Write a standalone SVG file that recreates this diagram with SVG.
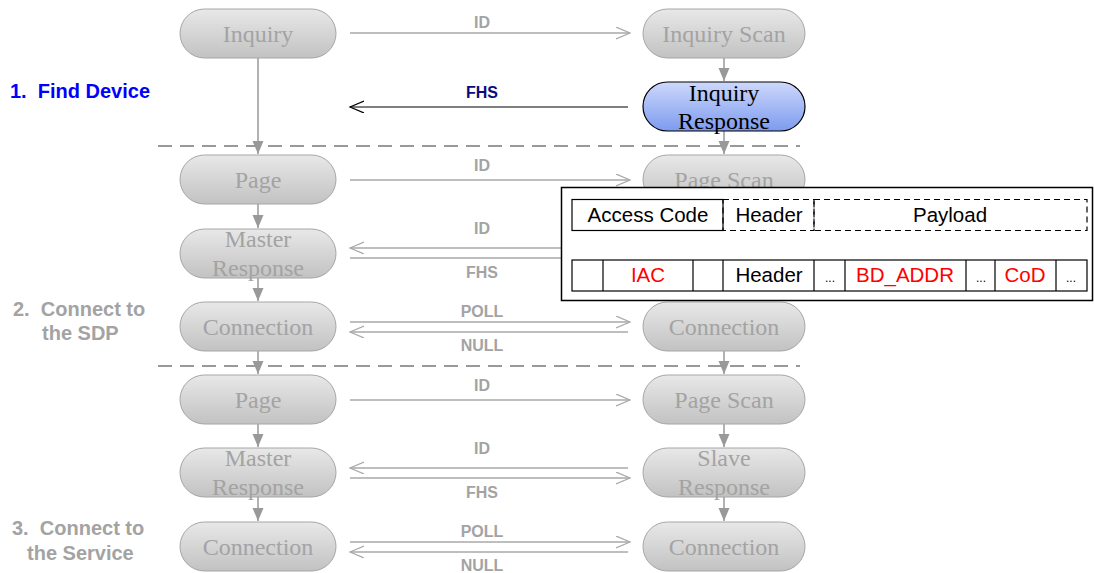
<svg xmlns="http://www.w3.org/2000/svg" width="1094" height="573" viewBox="0 0 1094 573">
  <defs>
    <linearGradient id="gGrey" x1="0" y1="0" x2="0" y2="1">
      <stop offset="0" stop-color="#e8e8e8"/>
      <stop offset="1" stop-color="#c2c2c2"/>
    </linearGradient>
    <linearGradient id="gBlue" x1="0" y1="0" x2="0" y2="1">
      <stop offset="0" stop-color="#cdd8fb"/>
      <stop offset="1" stop-color="#7d9bef"/>
    </linearGradient>
    <marker id="open" markerUnits="userSpaceOnUse" markerWidth="16" markerHeight="14" refX="14" refY="6" orient="auto">
      <path d="M0,0 L14,6 L0,12" fill="none" stroke="#a8a8a8" stroke-width="1.2"/>
    </marker>
    <marker id="openDark" markerUnits="userSpaceOnUse" markerWidth="16" markerHeight="14" refX="14" refY="6" orient="auto">
      <path d="M0,0 L14,6 L0,12" fill="none" stroke="#000" stroke-width="1.2"/>
    </marker>
    <marker id="solid" markerUnits="userSpaceOnUse" markerWidth="14" markerHeight="12" refX="13" refY="5.5" orient="auto">
      <path d="M0,0 L13,5.5 L0,11 Z" fill="#999"/>
    </marker>
  </defs>
  <style>
    .node rect { fill: url(#gGrey); stroke: #a6a6a6; stroke-width: 1; }
    .node text { font-family: "Liberation Serif", "Times New Roman", serif; font-size: 24px; fill: #a3a3a3; text-anchor: middle; }
    .hl rect { fill: url(#gBlue); stroke: #000; stroke-width: 1.2; }
    .hl text { fill: #000; }
    .msg { stroke: #a8a8a8; stroke-width: 1.3; fill: none; }
    .msg.fwd { marker-end: url(#open); }
    .msg.dark { stroke: #555; marker-end: url(#openDark); }
    .flow { stroke: #999; stroke-width: 1.5; fill: none; marker-end: url(#solid); }
    .sep { stroke: #999; stroke-width: 2; stroke-dasharray: 14 8; fill: none; }
    .lbl { font-family: "Liberation Sans", Arial, sans-serif; font-weight: bold; font-size: 16px; fill: #a3a3a3; text-anchor: middle; }
    .lbl.dark { fill: #0a0a80; }
    .phase { font-family: "Liberation Sans", Arial, sans-serif; font-weight: bold; font-size: 20px; fill: #a3a3a3; white-space: pre; }
    .phase.on { fill: #0000ff; }
    .cell { fill: none; stroke: #000; stroke-width: 1.2; }
    .cell.dash { stroke-dasharray: 6 4; }
    .ct { font-family: "Liberation Sans", Arial, sans-serif; font-size: 20.5px; fill: #000; text-anchor: middle; }
    .ct.red { fill: #ff0000; }
    .ct.small { font-size: 12px; }
  </style>

  <!-- phase separators -->
  <line class="sep" x1="158" y1="146" x2="800" y2="146"/>
  <line class="sep" x1="158" y1="366" x2="800" y2="366"/>

  <!-- phase titles -->
  <text class="phase on" x="10" y="98" xml:space="preserve">1.  Find Device</text>
  <text class="phase" x="13" y="316" xml:space="preserve">2.  Connect to</text>
  <text class="phase" x="42" y="340">the SDP</text>
  <text class="phase" x="12" y="535" xml:space="preserve">3.  Connect to</text>
  <text class="phase" x="27" y="560">the Service</text>

  <!-- connectors -->
  <g id="connectors">
    <!-- state transitions, left column -->
    <line class="flow" x1="258" y1="58" x2="258" y2="154"/>
    <line class="flow" x1="258" y1="204" x2="258" y2="228"/>
    <line class="flow" x1="258" y1="278" x2="258" y2="301"/>
    <line class="flow" x1="258" y1="351" x2="258" y2="374"/>
    <line class="flow" x1="258" y1="424" x2="258" y2="447"/>
    <line class="flow" x1="258" y1="497" x2="258" y2="521"/>
    <!-- state transitions, right column -->
    <line class="flow" x1="724" y1="58" x2="724" y2="81"/>
    <line class="flow" x1="724" y1="131" x2="724" y2="154"/>
    <line class="flow" x1="724" y1="351" x2="724" y2="374"/>
    <line class="flow" x1="724" y1="424" x2="724" y2="447"/>
    <line class="flow" x1="724" y1="497" x2="724" y2="521"/>

    <!-- messages -->
    <line class="msg fwd" x1="350" y1="33" x2="630" y2="33"/>
    <text class="lbl" x="482" y="28">ID</text>
    <line class="msg dark" x1="628" y1="107" x2="350" y2="107"/>
    <text class="lbl dark" x="482" y="98">FHS</text>

    <line class="msg fwd" x1="350" y1="180" x2="630" y2="180"/>
    <text class="lbl" x="482" y="171">ID</text>
    <line class="msg fwd" x1="628" y1="248" x2="350" y2="248"/>
    <text class="lbl" x="482" y="234">ID</text>
    <line class="msg fwd" x1="350" y1="258" x2="630" y2="258"/>
    <text class="lbl" x="482" y="278">FHS</text>
    <line class="msg fwd" x1="350" y1="322" x2="630" y2="322"/>
    <text class="lbl" x="482" y="317">POLL</text>
    <line class="msg fwd" x1="628" y1="332" x2="350" y2="332"/>
    <text class="lbl" x="482" y="351">NULL</text>

    <line class="msg fwd" x1="350" y1="400" x2="630" y2="400"/>
    <text class="lbl" x="482" y="391">ID</text>
    <line class="msg fwd" x1="628" y1="468" x2="350" y2="468"/>
    <text class="lbl" x="482" y="454">ID</text>
    <line class="msg fwd" x1="350" y1="478" x2="630" y2="478"/>
    <text class="lbl" x="482" y="498">FHS</text>
    <line class="msg fwd" x1="350" y1="542" x2="630" y2="542"/>
    <text class="lbl" x="482" y="537">POLL</text>
    <line class="msg fwd" x1="628" y1="552" x2="350" y2="552"/>
    <text class="lbl" x="482" y="571">NULL</text>
  </g>

  <!-- left column states -->
  <g id="inquiry" class="node"><rect x="180" y="9" width="156" height="49" rx="24.5"/><text x="258" y="42">Inquiry</text></g>
  <g id="page1" class="node"><rect x="180" y="155" width="156" height="49" rx="24.5"/><text x="258" y="188">Page</text></g>
  <g id="master1" class="node"><rect x="180" y="229" width="156" height="49" rx="24.5"/><text x="258" y="247">Master</text><text x="258" y="276">Response</text></g>
  <g id="conn1" class="node"><rect x="180" y="302" width="156" height="49" rx="24.5"/><text x="258" y="335">Connection</text></g>
  <g id="page2" class="node"><rect x="180" y="375" width="156" height="49" rx="24.5"/><text x="258" y="408">Page</text></g>
  <g id="master2" class="node"><rect x="180" y="448" width="156" height="49" rx="24.5"/><text x="258" y="466">Master</text><text x="258" y="495">Response</text></g>
  <g id="conn2" class="node"><rect x="180" y="522" width="156" height="49" rx="24.5"/><text x="258" y="555">Connection</text></g>

  <!-- right column states -->
  <g id="inquiryScan" class="node"><rect x="643" y="9" width="162" height="49" rx="24.5"/><text x="724" y="42">Inquiry Scan</text></g>
  <g id="inquiryResponse" class="node hl"><rect x="643" y="82" width="162" height="49" rx="24.5"/><text x="724" y="101">Inquiry</text><text x="724" y="129">Response</text></g>
  <g id="pageScan1" class="node"><rect x="643" y="155" width="162" height="49" rx="24.5"/><text x="724" y="188">Page Scan</text></g>
  <g id="connScan1" class="node"><rect x="643" y="302" width="162" height="49" rx="24.5"/><text x="724" y="335">Connection</text></g>
  <g id="pageScan2" class="node"><rect x="643" y="375" width="162" height="49" rx="24.5"/><text x="724" y="408">Page Scan</text></g>
  <g id="slave2" class="node"><rect x="643" y="448" width="162" height="49" rx="24.5"/><text x="724" y="466">Slave</text><text x="724" y="495">Response</text></g>
  <g id="connScan2" class="node"><rect x="643" y="522" width="162" height="49" rx="24.5"/><text x="724" y="555">Connection</text></g>

  <!-- packet format callout -->
  <g id="packet">
    <rect x="561.5" y="187.5" width="531" height="113" fill="#fff" stroke="#000" stroke-width="1.5"/>
    <!-- general packet layout -->
    <rect class="cell" x="572" y="199.5" width="151" height="31"/>
    <rect class="cell dash" x="723" y="199.5" width="91" height="31"/>
    <rect class="cell dash" x="814" y="199.5" width="273" height="31"/>
    <text class="ct" x="648" y="222">Access Code</text>
    <text class="ct" x="769" y="222">Header</text>
    <text class="ct" x="950" y="222">Payload</text>
    <!-- FHS packet fields -->
    <rect class="cell" x="572" y="260" width="515" height="31"/>
    <line class="cell" x1="603" y1="260" x2="603" y2="291"/>
    <line class="cell" x1="693" y1="260" x2="693" y2="291"/>
    <line class="cell" x1="723" y1="260" x2="723" y2="291"/>
    <line class="cell" x1="814" y1="260" x2="814" y2="291"/>
    <line class="cell" x1="845" y1="260" x2="845" y2="291"/>
    <line class="cell" x1="966" y1="260" x2="966" y2="291"/>
    <line class="cell" x1="995" y1="260" x2="995" y2="291"/>
    <line class="cell" x1="1056" y1="260" x2="1056" y2="291"/>
    <text class="ct red" x="648" y="282">IAC</text>
    <text class="ct" x="769" y="282">Header</text>
    <text class="ct small" x="830" y="282">...</text>
    <text class="ct red" x="905" y="282">BD_ADDR</text>
    <text class="ct small" x="981" y="282">...</text>
    <text class="ct red" x="1025" y="282">CoD</text>
    <text class="ct small" x="1071" y="282">...</text>
  </g>
</svg>
